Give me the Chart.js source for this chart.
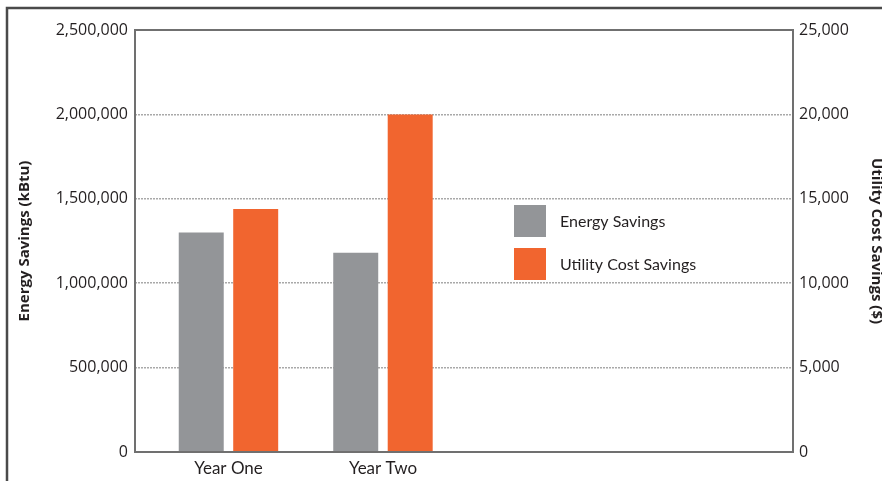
<!DOCTYPE html>
<html>
<head>
<meta charset="utf-8">
<title>Energy and Utility Cost Savings</title>
<script src="https://cdn.jsdelivr.net/npm/chart.js@4.4.0/dist/chart.umd.min.js"></script>
<style>
    html, body { margin: 0; padding: 0; background: #fff; overflow: hidden; }
    #wrap { position: relative; width: 882px; height: 481px; }
</style>
</head>
<body>
<div id="wrap"><canvas id="savingsChart" width="882" height="481"></canvas></div>
<script>
// Chart data
const categories = ['Year One', 'Year Two'];
const energySavings = [1300000, 1180000];   // kBtu
const costSavings = [14400, 20000];         // $
const energyTicks = [0, 500000, 1000000, 1500000, 2000000, 2500000];
const costTicks = [0, 5000, 10000, 15000, 20000, 25000];

const GRAY = '#939598';
const ORANGE = '#f1652f';
const TEXT = '#231f20';

// Frame around the figure, box around the plot, legend inside the plot
const frameAndLegend = {
    id: 'frameAndLegend',
    beforeDraw(chart) {
        const ctx = chart.ctx;
        ctx.save();
        ctx.strokeStyle = '#4a4a4a';
        ctx.lineWidth = 2.5;
        ctx.beginPath();
        ctx.moveTo(7, chart.height);
        ctx.lineTo(7, 8);
        ctx.lineTo(chart.width, 8);
        ctx.stroke();
        ctx.restore();
    },
    afterDatasetsDraw(chart) {
        const { ctx, chartArea: a } = chart;
        ctx.save();
        ctx.strokeStyle = '#707070';
        ctx.lineWidth = 2;
        ctx.strokeRect(a.left, a.top, a.right - a.left, a.bottom - a.top);

        ctx.font = '16px Lato';
        ctx.textBaseline = 'middle';
        ctx.textAlign = 'left';
        chart.data.datasets.forEach((ds, i) => {
            const y = 205 + i * 43;
            ctx.fillStyle = ds.backgroundColor;
            ctx.fillRect(514, y, 32, 32);
            ctx.fillStyle = TEXT;
            ctx.fillText(ds.label, 560, y + 17);
        });
        ctx.restore();
    }
};

const tickFont = { family: 'Open Sans', size: 16 };
const titleFont = { family: 'Open Sans', size: 15, weight: 'bold' };

new Chart(document.getElementById('savingsChart'), {
    type: 'bar',
    data: {
        datasets: [
            {
                label: 'Energy Savings',
                data: categories.map((c, i) => ({ x: i + 1, y: energySavings[i] })),
                backgroundColor: GRAY,
                yAxisID: 'yEnergy'
            },
            {
                label: 'Utility Cost Savings',
                data: categories.map((c, i) => ({ x: i + 1, y: costSavings[i] })),
                backgroundColor: ORANGE,
                yAxisID: 'yCost'
            }
        ]
    },
    options: {
        responsive: false,
        animation: false,
        categoryPercentage: 0.705,
        barPercentage: 0.826,
        layout: { padding: { top: 30, left: 0, right: 0, bottom: 0 } },
        plugins: {
            legend: { display: false },
            tooltip: { enabled: false }
        },
        scales: {
            x: {
                type: 'linear',
                offset: false,
                min: 0.395,
                max: 4.654,
                afterBuildTicks: axis => {
                    axis.ticks = categories.map((c, i) => ({ value: i + 1 }));
                },
                afterFit: s => { s.height = 29; },
                ticks: {
                    callback: v => categories[v - 1] || '',
                    autoSkip: false,
                    maxRotation: 0,
                    font: { family: 'Lato', size: 17 },
                    color: TEXT,
                    padding: 6
                },
                grid: { display: false, drawTicks: false, offset: false },
                border: { display: false }
            },
            yEnergy: {
                position: 'left',
                min: energyTicks[0],
                max: energyTicks[energyTicks.length - 1],
                afterBuildTicks: axis => {
                    axis.ticks = energyTicks.map(v => ({ value: v }));
                },
                afterFit: s => { s.width = 135; },
                ticks: {
                    callback: v => v.toLocaleString('en-US'),
                    font: tickFont,
                    color: TEXT,
                    padding: 7
                },
                grid: { color: '#a9a9a9', lineWidth: 1.5, drawTicks: false },
                border: { display: false, dash: [2, 1] },
                title: {
                    display: true,
                    text: 'Energy Savings (kBtu)',
                    font: titleFont,
                    color: TEXT,
                    padding: { top: 16, bottom: 0 }
                }
            },
            yCost: {
                position: 'right',
                min: costTicks[0],
                max: costTicks[costTicks.length - 1],
                afterBuildTicks: axis => {
                    axis.ticks = costTicks.map(v => ({ value: v }));
                },
                afterFit: s => { s.width = 89; },
                ticks: {
                    callback: v => v.toLocaleString('en-US'),
                    font: tickFont,
                    color: TEXT,
                    padding: 6
                },
                grid: { display: false, drawTicks: false },
                border: { display: false },
                title: {
                    display: true,
                    text: 'Utility Cost Savings ($)',
                    font: titleFont,
                    color: TEXT,
                    padding: { top: -3, bottom: 0 }
                }
            }
        }
    },
    plugins: [frameAndLegend]
});
</script>
</body>
</html>
